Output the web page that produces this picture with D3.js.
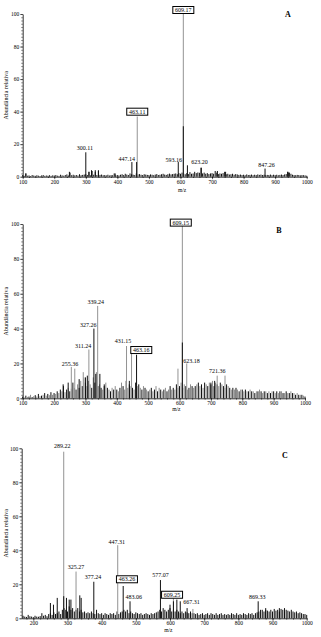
<!DOCTYPE html>
<html>
<head>
<meta charset="utf-8">
<script src="https://cdn.jsdelivr.net/npm/d3@7"></script>
<style>
body{margin:0;background:#fff;}
text{font-family:"Liberation Serif","Times New Roman",serif;}
</style>
</head>
<body>
<svg></svg>
<script>
// ---- panel A ----
var aNoiseStart = 100;
var aNoise = [
  1,0.5,2,0.6,0.8,0.4,1,0.7,0.5,0.9,0.6,0.4,0.8,1,0.5,0.7,0.6,0.9,0.5,0.8,
  0.7,1,0.6,0.5,1.2,0.8,0.6,1,1.4,0.7,2.5,0.9,1.2,0.8,1,0.7,1.5,0.9,1.1,1.3,
  1.5,1,3,0.8,3.5,1.2,3,1,3.5,1.1,1.3,0.9,1,0.8,1.2,0.7,1,0.9,2,0.8,
  1,0.8,1.2,1.5,1,1.8,1.3,1,2,1.5,1.2,1,2,1.4,1.6,1.2,1,1.5,1.3,1.1,
  1,1.4,1.2,0.9,1.3,1.6,1,1.2,1.5,1.8,1.3,1.1,1.5,1.9,1.4,1.6,1.8,2,1.5,2.2,
  1.8,2.5,2,1.5,2.2,1.6,2.8,1.8,2,3,2.2,2.6,2.4,5.5,2,2.5,1.8,2.2,1.6,2,
  2.2,1.8,3.5,2.5,1.6,2,1.8,2.2,3,1.5,1.8,1.3,1.5,1.8,1.2,1.6,1.4,1.1,1.3,1,
  1.2,0.9,1.4,1,1.1,1.3,0.9,1.2,1,1.4,1.1,1.3,1,1.2,0.9,1.1,1,1.3,0.9,1.2,
  1,1.2,0.9,1.1,1.3,1,1.4,1.6,3,2.5,1.8,1.2,1,0.9,1.1,1,0.8,1,0.9,0.8,
  0.6];
var aBlack = [[110,2],[248,3],[300,15],[310,3],[318,4],[330,4],[340,4],[393,2],
  [446,9],[461,9],[593,9],[609,31],[622,7],[666,5.5],[717,3.5],[743,3],[868,5],[940,3],[943,2.5]];
var aGrey = [[463,37],[609,100]];
var aLabels = [["300.11",297,16.4],["447.14",430,9.8],["593.16",579,9.2],["623.20",660,7.8],["847.26",873,6.1]];
var aBoxed = [["463.11",463,37.5],["609.17",609,100]];

// ---- panel B ----
var bNoiseStart = 100;
var bNoise = [
  1,0.5,1.5,0.8,1,2,0.7,1.2,1.8,1,2.5,1.2,1.5,2,3,1.5,2.5,1.8,3.5,2,
  3,2.5,4,3,5,4,7,3.5,5,6,4,5.5,9,6,5,8,6,10,7,12,
  9,7,10,8,6,12,9,15,7,8,6,5,7,9,6,5,4,6,5,7,
  5,4,6,9,7,5,10,6,8,7,6,5,9,7,8,6,5,7,6,5,
  4,5,6,4,5,7,4,6,5,4,5,6,4,5,7,5,6,5,8,6,
  7,9,6,8,7,5,6,8,7,6,7,8,9,7,8,6,9,8,7,9,
  8,10,7,9,8,7,9,8,7,6,8,7,6,5,6,5,6,5,4,5,
  5,4,5,4,4,5,4,4,3,4,4,5,4,3,4,4,3,4,3,4,
  4,3,4,3,4,4,3,3,4,3,3,4,3,3,2,3,2,2,2,1.5,
  1];
var bBlack = [[229,8],[245,9],[280,11],[300,12],[306,13],[327,40],[333,14],[346,14],[360,8],
  [440,10],[463,25],[609,32],[700,9],[712,10]];
var bGrey = [[255,18],[266,17],[293,15],[311,28],[339,53],[431,30],[447,29],[595,17],
  [609,100],[623,20],[720,13],[745,13]];
var bLabels = [["339.24",333,54],["327.26",309,40.7],["311.24",293,28.7],["255.36",251,18.5],
  ["431.15",420,31.5],["623.18",638,20.4],["721.36",720,14.7]];
var bBoxed = [["463.16",478,25.4],["609.15",604,98.5]];

// ---- panel C ----
var cNoiseStart = 170;
var cNoise = [
  1.5,1,0.8,2,1.2,1,0.7,1.5,1,0.9,1.3,3,1.5,2,1.2,2.5,3,2,3.5,2.5,
  3,4,2.5,5,6,5,4,7,5,6,4,5,6,4,5,3.5,4,3,3.5,3,
  4,3,2.5,5,3,2.5,3,2,3,2.5,2,3,2.5,3,2,4,2.5,3.5,4,5,
  4,5,3,4,3,2.5,3.5,3,2.5,3,2,2.5,3,2.5,2,3,2.5,3,3.5,4,
  5,4,6,5,4,5,6,4,5,4,5,4,3,4,3,4,3.5,3,4,3,
  3,2.5,3,2,2.5,3,2,2.5,3,2,3,2.5,2,3,2,2.5,3,2,2.5,2,
  2.5,2,3,2.5,2,3,2,2.5,2,3,2.5,2,3,2.5,3,2,3,3.5,4,5,
  5,4,5,4.5,4,5,4,5.5,4.5,5,4,5.5,5,4,5,4.5,4,5,4,3.5,
  4,3,3.5,3,2.5,2.5,2];
var cBlack = [[250,9],[259,8],[270,12],[289,13],[297,12],[305,11],[310,11],[336,13.5],[340,12],
  [377,21.5],[463,19],[483,10],[572,22.5],[600,8],[610,10],[620,11],[630,10],[650,6],
  [858,10],[880,6],[920,6],[935,6]];
var cGrey = [[289,98],[325,27.5],[447,43],[610,12],[667,5.5]];
var cLabels = [["289.22",285,100],["325.27",325,28.8],["377.24",375,22.9],["447.31",444,43.7],
  ["483.06",494,11.4],["577.07",572,24.5],["667.31",663,8.4],["869.33",855,11.5]];
var cBoxed = [["463.26",474,20.6],["609.25",606,11.5]];

var xTicksAB = [100,200,300,400,500,600,700,800,900,1000];
var xTicksC = [200,300,400,500,600,700,800,900,1000];
var yTicks = [0,20,40,60,80,100];

var screen = {width:321,height:637};
var svg = d3.select("svg")
  .attr("width",screen.width)
  .attr("height",screen.height);

var drawPanel = function(p)
{
  var x = d3.scaleLinear().domain(p.domain).range([p.left,p.right]);
  var y = d3.scaleLinear().domain([0,100]).range([p.bottom,p.top]);
  var g = svg.append("g").classed("panel",true);

  // noise sticks
  g.append("g").selectAll("line")
    .data(p.noise)
    .enter()
    .append("line")
    .attr("x1",function(d,i){return x(p.noiseStart+i*5);})
    .attr("x2",function(d,i){return x(p.noiseStart+i*5);})
    .attr("y1",y(0))
    .attr("y2",function(d){return y(d);})
    .attr("stroke",function(d,i){return (p.altNoise && i%2==1) ? "#8c8c8c" : "#111";})
    .attr("stroke-width",1);

  var sticks = function(data,color)
  {
    g.append("g").selectAll("line")
      .data(data)
      .enter()
      .append("line")
      .attr("x1",function(d){return x(d[0]);})
      .attr("x2",function(d){return x(d[0]);})
      .attr("y1",y(0))
      .attr("y2",function(d){return y(d[1]);})
      .attr("stroke",color)
      .attr("stroke-width",1);
  };
  sticks(p.grey,"#939393");
  sticks(p.black,"#111");

  // axes
  var yMinor = d3.range(0,101,2);
  var xMinor = d3.range(p.tickValues[0]-100,1001,20).filter(function(v){return v>=p.domain[0];});

  g.append("g")
    .attr("transform","translate(0,"+y(0)+")")
    .call(d3.axisBottom(x).tickValues(xMinor).tickSize(1.3).tickFormat(""))
    .call(function(a){a.select(".domain").remove();});
  var xa = g.append("g")
    .attr("transform","translate(0,"+y(0)+")")
    .call(d3.axisBottom(x).tickValues(p.tickValues).tickSize(2.5).tickPadding(0.5).tickSizeOuter(0).tickFormat(d3.format("d")));
  xa.selectAll("text").attr("font-size",5.5).attr("font-family","Liberation Serif");

  g.append("g")
    .attr("transform","translate("+p.left+",0)")
    .call(d3.axisLeft(y).tickValues(yMinor).tickSize(1.3).tickFormat(""))
    .call(function(a){a.select(".domain").remove();});
  var ya = g.append("g")
    .attr("transform","translate("+p.left+",0)")
    .call(d3.axisLeft(y).tickValues(yTicks).tickSize(2.5).tickPadding(1).tickSizeOuter(0));
  ya.selectAll("text").attr("font-size",5.5).attr("font-family","Liberation Serif");
  g.selectAll(".domain").attr("stroke-width",0.8);
  g.selectAll(".tick line").attr("stroke-width",0.6);

  // axis titles
  g.append("text")
    .attr("x",x(p.mzAt))
    .attr("y",p.mzY)
    .attr("text-anchor","middle")
    .attr("font-size",5.5)
    .text("m/z");
  g.append("text")
    .attr("transform","translate(8,"+((p.top+p.bottom)/2)+") rotate(-90)")
    .attr("text-anchor","middle")
    .attr("font-size",6)
    .text("Abundância relativa");

  // panel letter
  g.append("text")
    .attr("x",p.letterX)
    .attr("y",p.letterY)
    .attr("text-anchor","middle")
    .attr("font-size",8)
    .attr("font-weight","bold")
    .text(p.letter);

  // peak labels
  g.append("g").selectAll("text")
    .data(p.labels)
    .enter()
    .append("text")
    .attr("x",function(d){return x(d[1]);})
    .attr("y",function(d){return y(d[2]);})
    .attr("text-anchor","middle")
    .attr("font-size",6)
    .text(function(d){return d[0];});

  var boxes = g.append("g").selectAll("g")
    .data(p.boxed)
    .enter()
    .append("g")
    .attr("transform",function(d){return "translate("+x(d[1])+","+y(d[2])+")";});
  boxes.append("rect")
    .attr("x",-10.5)
    .attr("y",-7.5)
    .attr("width",21)
    .attr("height",7)
    .attr("fill","#fff")
    .attr("stroke","#000")
    .attr("stroke-width",1);
  boxes.append("text")
    .attr("x",0)
    .attr("y",-1.8)
    .attr("text-anchor","middle")
    .attr("font-size",6)
    .text(function(d){return d[0];});
};

drawPanel({domain:[100,1000],left:22.7,right:306.7,top:14,bottom:176.7,
  noise:aNoise,noiseStart:aNoiseStart,black:aBlack,grey:aGrey,labels:aLabels,boxed:aBoxed,
  tickValues:xTicksAB,mzAt:605,mzY:191.5,letter:"A",letterX:288,letterY:17});
drawPanel({domain:[100,1000],left:22.7,right:305,top:224,bottom:398.3,altNoise:true,
  noise:bNoise,noiseStart:bNoiseStart,black:bBlack,grey:bGrey,labels:bLabels,boxed:bBoxed,
  tickValues:xTicksAB,mzAt:590,mzY:410.5,letter:"B",letterX:279,letterY:233});
drawPanel({domain:[166,1000],left:21.7,right:306.7,top:448.3,bottom:618.3,
  noise:cNoise,noiseStart:cNoiseStart,black:cBlack,grey:cGrey,labels:cLabels,boxed:cBoxed,
  tickValues:xTicksC,mzAt:595,mzY:631.5,letter:"C",letterX:285,letterY:458});
</script>
</body>
</html>
